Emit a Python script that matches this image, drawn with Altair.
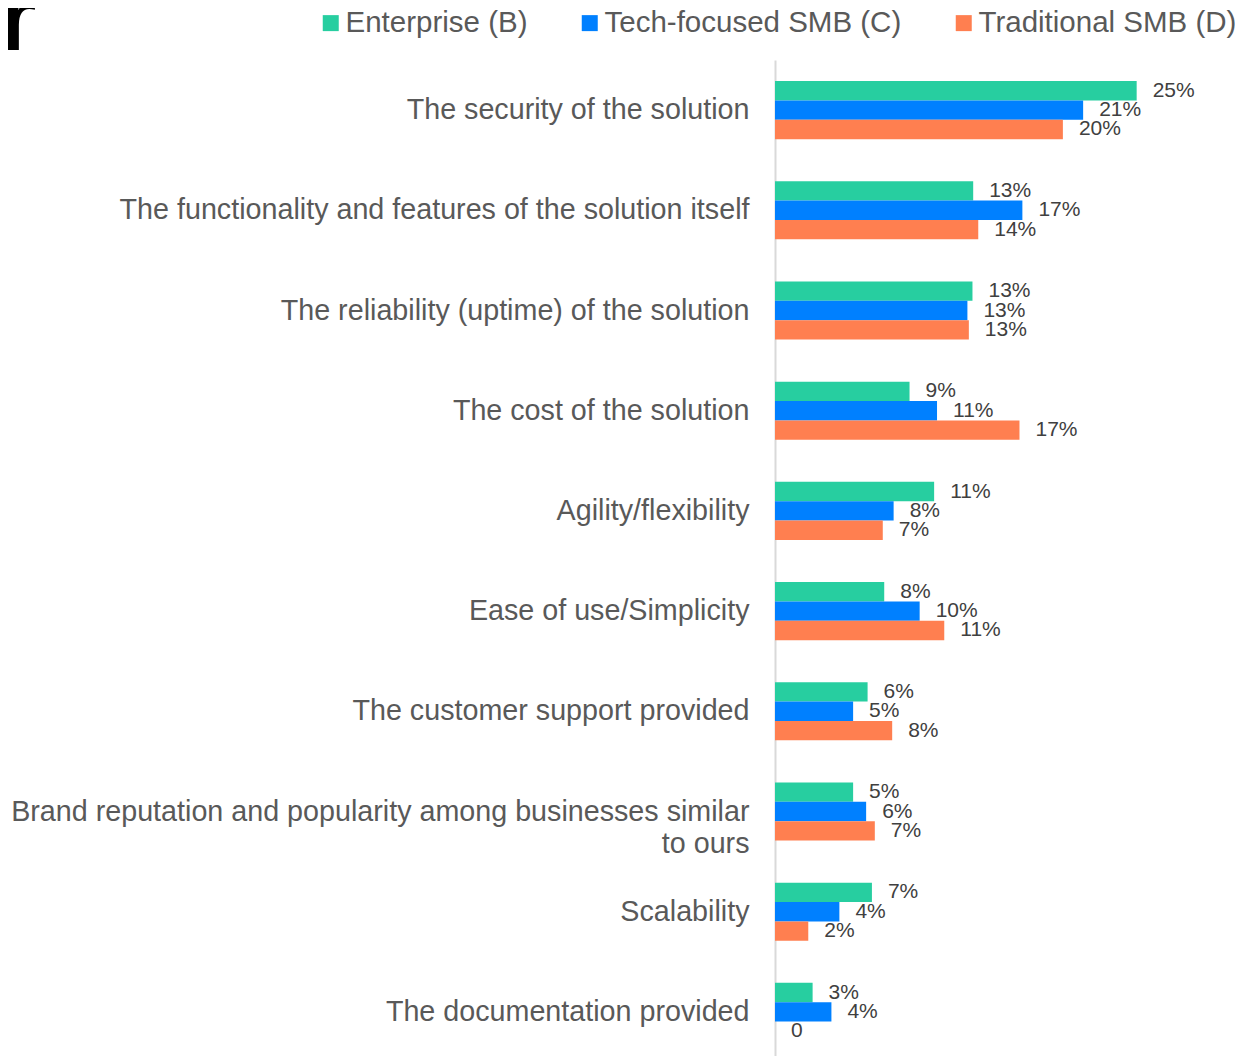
import altair as alt
import pandas as pd

categories = [
    "The security of the solution",
    "The functionality and features of the solution itself",
    "The reliability (uptime) of the solution",
    "The cost of the solution",
    "Agility/flexibility",
    "Ease of use/Simplicity",
    "The customer support provided",
    "Brand reputation and popularity among businesses similar\nto ours",
    "Scalability",
    "The documentation provided",
]
series = ["Enterprise (B)", "Tech-focused SMB (C)", "Traditional SMB (D)"]
colors = ["#27CEA0", "#0080FF", "#FF7F50"]

enterprise = [25.0, 13.7, 13.65, 9.3, 11.0, 7.55, 6.4, 5.4, 6.7, 2.6]
tech = [21.3, 17.1, 13.3, 11.2, 8.2, 10.0, 5.4, 6.3, 4.45, 3.9]
traditional = [19.9, 14.05, 13.4, 16.9, 7.45, 11.7, 8.1, 6.9, 2.3, 0.0]

enterprise_labels = ["25%", "13%", "13%", "9%", "11%", "8%", "6%", "5%", "7%", "3%"]
tech_labels = ["21%", "17%", "13%", "11%", "8%", "10%", "5%", "6%", "4%", "4%"]
traditional_labels = ["20%", "14%", "13%", "17%", "7%", "11%", "8%", "7%", "2%", "0"]

heading = ["r"]

rows = []
for s, vals, labs in zip(series, [enterprise, tech, traditional],
                         [enterprise_labels, tech_labels, traditional_labels]):
    for c, v, l in zip(categories, vals, labs):
        rows.append({"category": c, "series": s, "value": v, "label": l})
df = pd.DataFrame(rows)

FONT = "Liberation Sans"

base = alt.Chart(df).encode(
    y=alt.Y(
        "category:N",
        sort=categories,
        scale=alt.Scale(paddingInner=0.42, paddingOuter=0.21),
        axis=alt.Axis(
            title=None,
            ticks=False,
            tickSize=0,
            grid=False,
            domain=True,
            domainColor="#D9D9D9",
            domainWidth=2,
            labelFont=FONT,
            labelFontSize=28.7,
            labelColor="#595959",
            labelPadding=26,
            labelLimit=0,
            labelLineHeight=32,
            labelExpr="split(datum.label, '\\n')",
        ),
    ),
    yOffset=alt.YOffset("series:N", sort=series,
                        scale=alt.Scale(paddingInner=0, paddingOuter=0)),
    x=alt.X("value:Q", scale=alt.Scale(domain=[0, 30]), axis=None),
)

bars = base.mark_bar().encode(
    color=alt.Color(
        "series:N",
        sort=series,
        scale=alt.Scale(domain=series, range=colors),
        legend=alt.Legend(
            title=None,
            orient="none",
            direction="horizontal",
            legendX=-459,
            legendY=-52,
            symbolType="square",
            symbolSize=256,
            symbolStrokeWidth=0,
            labelFont=FONT,
            labelFontSize=29.5,
            labelColor="#595959",
            labelOffset=0,
            columnPadding=47,
            padding=0,
            labelLimit=0,
        ),
    )
)

texts = base.mark_text(
    align="left", baseline="middle", dx=16, font=FONT, fontSize=21, color="#404040"
).encode(text="label:N")

head = alt.Chart(pd.DataFrame({"t": heading})).mark_text(
    align="left", baseline="alphabetic", font=FONT, fontSize=96,
    fontWeight="bold", color="black"
).encode(text="t:N", x=alt.value(-776), y=alt.value(-10))

chart = (
    alt.layer(bars, texts, head)
    .properties(
        width=434,
        height=1002,
        autosize=alt.AutoSizeParams(type="none"),
        padding={"left": 767, "top": 52, "right": 26, "bottom": 0},
        background="white",
    )
    .configure_view(strokeWidth=0)
)

chart.save("out.html", embed_options={"renderer": "svg", "actions": False})
